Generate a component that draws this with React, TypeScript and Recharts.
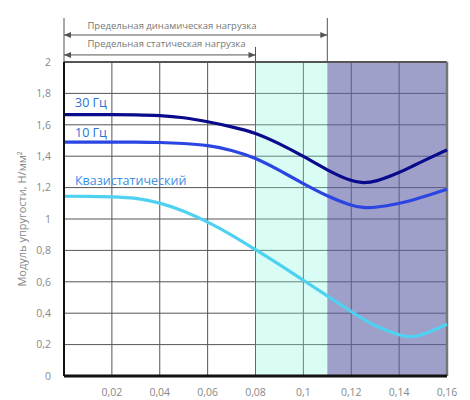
import React from 'react';
import {
  LineChart,
  Line,
  XAxis,
  YAxis,
  CartesianGrid,
  ReferenceArea,
  ReferenceLine,
  ReferenceDot,
} from 'recharts';

const deformation = [0, 0.01, 0.02, 0.03, 0.04, 0.05, 0.06, 0.07, 0.08, 0.09, 0.1, 0.11, 0.12, 0.125, 0.13, 0.14, 0.145, 0.15, 0.16];
const hz30 = [1.665, 1.665, 1.665, 1.664, 1.66, 1.647, 1.62, 1.588, 1.55, 1.48, 1.4, 1.31, 1.24, 1.228, 1.236, 1.295, 1.332, 1.37, 1.44];
const hz10 = [1.49, 1.49, 1.49, 1.49, 1.488, 1.482, 1.47, 1.44, 1.39, 1.31, 1.225, 1.145, 1.085, 1.072, 1.072, 1.098, 1.118, 1.14, 1.19];
const quasi = [1.145, 1.145, 1.142, 1.135, 1.105, 1.052, 0.982, 0.9, 0.805, 0.71, 0.61, 0.51, 0.41, 0.362, 0.318, 0.258, 0.245, 0.262, 0.33];

const xTicks = [0.02, 0.04, 0.06, 0.08, 0.1, 0.12, 0.14, 0.16];
const yTicks = [0, 0.2, 0.4, 0.6, 0.8, 1, 1.2, 1.4, 1.6, 1.8, 2];

const staticLimit = 0.08;
const dynamicLimit = 0.11;

const data = deformation.map((x, i) => ({ x, hz30: hz30[i], hz10: hz10[i], quasi: quasi[i] }));

const fmt = (v: number) => String(v).replace('.', ',');

const FONT = '"Open Sans", "Noto Sans", sans-serif';

// размерная линия со стрелками на концах
function DimLine(props: any) {
  const { x1, y1, x2, y2 } = props;
  return (
    <g>
      <line x1={x1} y1={y1} x2={x2} y2={y2} stroke="#555" strokeWidth={1} />
      <polygon points={`${x1},${y1} ${x1 + 7},${y1 - 3} ${x1 + 7},${y1 + 3}`} fill="#555" />
      <polygon points={`${x2},${y2} ${x2 - 7},${y2 - 3} ${x2 - 7},${y2 + 3}`} fill="#555" />
    </g>
  );
}

export default function App() {
  return (
    <div style={{ position: 'absolute', left: 0, top: 0, width: 470, height: 400, background: '#fff', fontFamily: FONT }}>
      <LineChart width={470} height={400} data={data} margin={{ top: 62, right: 23, bottom: 4, left: 0 }}>
        <CartesianGrid stroke="#555" strokeWidth={1} />
        <ReferenceArea x1={staticLimit} x2={dynamicLimit} y1={0} y2={2} fill="#80f5da" fillOpacity={0.3} stroke="none" />
        <ReferenceArea x1={dynamicLimit} x2={0.16} y1={0} y2={2} fill="#5f61a5" fillOpacity={0.6} stroke="none" />
        <XAxis
          dataKey="x"
          type="number"
          domain={[0, 0.16]}
          ticks={xTicks}
          tickFormatter={fmt}
          tickLine={false}
          tickMargin={7}
          height={20}
          axisLine={{ stroke: '#111', strokeWidth: 3 }}
          tick={{ fill: '#888', fontSize: 10.5, fontFamily: FONT }}
        />
        <YAxis
          type="number"
          domain={[0, 2]}
          ticks={yTicks}
          tickFormatter={fmt}
          tickLine={false}
          tickMargin={7}
          width={64}
          axisLine={{ stroke: '#111', strokeWidth: 2 }}
          tick={{ fill: '#888', fontSize: 10.5, fontFamily: FONT }}
          label={{
            value: 'Модуль упругости, Н/мм²',
            angle: -90,
            position: 'insideLeft',
            offset: 22,
            fill: '#888',
            fontSize: 11,
            style: { textAnchor: 'middle', fontFamily: FONT },
          }}
        />
        <ReferenceLine y={2} stroke="#555" strokeWidth={2} />
        <ReferenceLine x={0.16} stroke="#777" strokeWidth={2.5} />

        <ReferenceLine segment={[{ x: 0, y: 2 }, { x: 0, y: 2.28 }]} stroke="#555" strokeWidth={1} ifOverflow="visible" />
        <ReferenceLine segment={[{ x: dynamicLimit, y: 2 }, { x: dynamicLimit, y: 2.28 }]} stroke="#555" strokeWidth={1} ifOverflow="visible" />
        <ReferenceLine segment={[{ x: staticLimit, y: 2 }, { x: staticLimit, y: 2.096 }]} stroke="#555" strokeWidth={1} ifOverflow="visible" />
        <ReferenceLine segment={[{ x: 0, y: 2.172 }, { x: dynamicLimit, y: 2.172 }]} ifOverflow="visible" shape={(p: any) => <DimLine {...p} />} />
        <ReferenceLine segment={[{ x: 0, y: 2.045 }, { x: staticLimit, y: 2.045 }]} ifOverflow="visible" shape={(p: any) => <DimLine {...p} />} />
        <ReferenceDot
          x={0.0098}
          y={2.232}
          r={0}
          ifOverflow="visible"
          label={{ value: 'Предельная динамическая нагрузка', position: 'right', offset: 0, fill: '#777', fontSize: 9.5, fontFamily: FONT }}
        />
        <ReferenceDot
          x={0.0098}
          y={2.115}
          r={0}
          ifOverflow="visible"
          label={{ value: 'Предельная статическая нагрузка', position: 'right', offset: 0, fill: '#777', fontSize: 9.5, fontFamily: FONT }}
        />

        <Line type="basis" dataKey="hz30" stroke="#0a0a8c" strokeWidth={3.2} dot={false} isAnimationActive={false} />
        <Line type="basis" dataKey="hz10" stroke="#2b45e3" strokeWidth={3.2} dot={false} isAnimationActive={false} />
        <Line type="basis" dataKey="quasi" stroke="#4fd2f2" strokeWidth={3.2} dot={false} isAnimationActive={false} />

        <ReferenceDot x={0.0046} y={1.739} r={0} label={{ value: '30 Гц', position: 'right', offset: 0, fill: '#2a6fd6', fontSize: 12.5, fontFamily: FONT }} />
        <ReferenceDot x={0.0046} y={1.548} r={0} label={{ value: '10 Гц', position: 'right', offset: 0, fill: '#2a6fd6', fontSize: 12.5, fontFamily: FONT }} />
        <ReferenceDot x={0.0046} y={1.242} r={0} label={{ value: 'Квазистатический', position: 'right', offset: 0, fill: '#3a8ee4', fontSize: 12.5, fontFamily: FONT }} />
      </LineChart>
    </div>
  );
}
